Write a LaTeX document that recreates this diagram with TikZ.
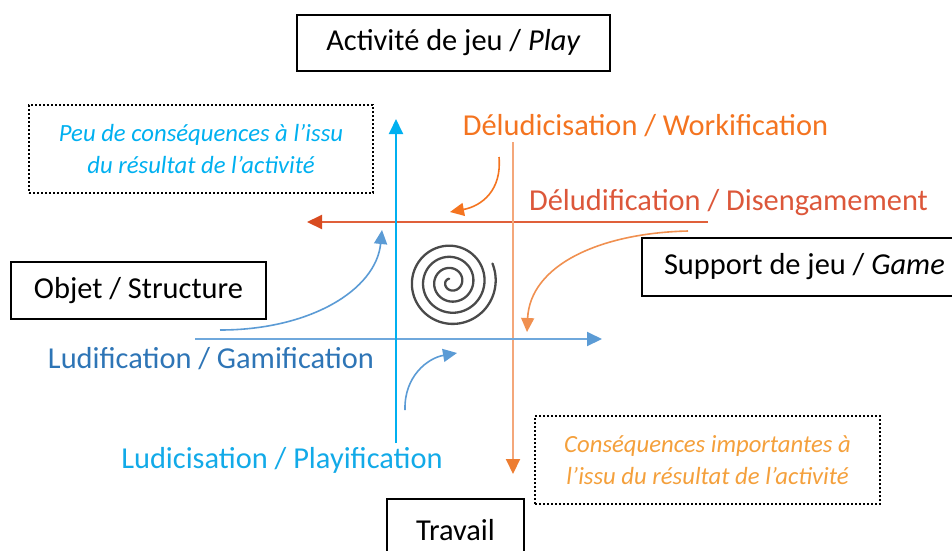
\documentclass[tikz,border=0pt]{standalone}
\usepackage{fontspec}
\setmainfont{Carlito}
\usetikzlibrary{arrows.meta,calc}
\definecolor{lblue}{HTML}{00B0F0}
\definecolor{mblue}{HTML}{5B9BD5}
\definecolor{mbluel}{HTML}{6FA8DC}
\definecolor{dblue}{HTML}{2E75B6}
\definecolor{lbtext}{HTML}{12AAE8}
\definecolor{orng}{HTML}{ED7D31}
\definecolor{lorng}{HTML}{F4A77A}
\definecolor{brorng}{HTML}{F47420}
\definecolor{redtext}{HTML}{DC573A}
\definecolor{redline}{HTML}{E0603A}
\definecolor{redtip}{HTML}{D84B20}
\definecolor{notorng}{HTML}{F4A03C}
\definecolor{spir}{HTML}{4A4A4A}
\begin{document}
\begin{tikzpicture}[x=1pt,y=-1pt,
  box/.style={draw=black, line width=2pt, font=\fontsize{30.4}{36}\selectfont, inner sep=0pt},
  dotbox/.style={draw=black, line width=2pt, dash pattern=on 2pt off 2pt, align=center,
     font=\itshape\fontsize{24.7}{32}\selectfont, inner sep=0pt},
  lab/.style={font=\fontsize{30.4}{36}\selectfont, anchor=base, inner sep=0pt},
  tip/.style={-{Triangle[length=15pt,width=14pt]}},
  axis/.style={line width=2pt},
  curv/.style={line width=1.6pt, -{Triangle[length=14pt,width=13pt]}}
]
\useasboundingbox (0,0) rectangle (952,550);

% boxes
\node[box, minimum width=313pt, minimum height=56pt] (play) at (453.5,43) {Activité de jeu / \textit{Play}};
\node[box, minimum width=255pt, minimum height=57pt] (objet) at (138.5,290.5) {Objet / Structure};
\node[box, anchor=west, minimum height=58pt, inner xsep=22pt] (support) at (641,267) {Support de jeu / \textit{Game}};
\node[box, minimum width=137pt, minimum height=62pt] (travail) at (455.5,530) {Travail};

% dotted notes
\node[dotbox, text=lblue, minimum width=344pt, minimum height=88pt] (peu) at (201,149)
  {Peu de conséquences à l’issu\\du résultat de l’activité};
\node[dotbox, text=notorng, minimum width=345pt, minimum height=88pt] (imp) at (707.5,460)
  {Conséquences importantes à\\l’issu du résultat de l’activité};

% labels
\node[lab, text=brorng] (work) at (645.5,135) {Déludicisation / Workification};
\node[lab, text=redtext] (diseng) at (728.5,210) {Déludification / Disengamement};
\node[lab, text=dblue] (ludif) at (211,368) {Ludification / Gamification};
\node[lab, text=lbtext] (ludic) at (282,468) {Ludicisation / Playification};

% axes
\coordinate (vbT) at (396,119);
\coordinate (vbB) at (396,443);
\coordinate (rL) at (307,222);
\coordinate (rR) at (708,222);
\coordinate (voT) at (513,142);
\coordinate (voB) at (513,474);
\coordinate (hbL) at (195,339);
\coordinate (hbR) at (602,339);

\draw[axis, draw=redline, -{Triangle[length=15pt,width=14pt,color=redtip]}] (rR) -- (rL);
\draw[axis, draw=lorng, -{Triangle[length=15pt,width=14pt,color=orng]}] (voT) -- (voB);
\draw[axis, draw=mbluel, -{Triangle[length=15pt,width=14pt,color=mblue]}] (hbL) -- (hbR);
\draw[axis, draw=lblue, tip] (vbB) -- (vbT);

% curved arrows
\coordinate (c1s) at (220,330);
\coordinate (c1e) at (382,230);
\coordinate (c2s) at (405,410);
\coordinate (c2e) at (457,353);
\coordinate (c3s) at (499,157);
\coordinate (c3e) at (450,212);
\coordinate (c4s) at (688,231);
\coordinate (c4e) at (527,332);
\draw[curv, draw=mblue] (c1s) .. controls (310,330) and (376,290) .. (c1e);
\draw[curv, draw=mblue] (c2s) .. controls (404,376) and (428,358) .. (c2e);
\draw[curv, draw=brorng] (c3s) .. controls (502,190) and (482,206) .. (c3e);
\draw[curv, draw=orng!85] (c4s) .. controls (600,233) and (530,265) .. (c4e);

% spiral
\draw[line width=2.3pt, draw=spir, line cap=round]
  plot[domain=120:1464, samples=400, smooth]
  ({451+0.031*\x*cos(\x)}, {282-0.031*\x*sin(\x)});
\end{tikzpicture}
\end{document}
